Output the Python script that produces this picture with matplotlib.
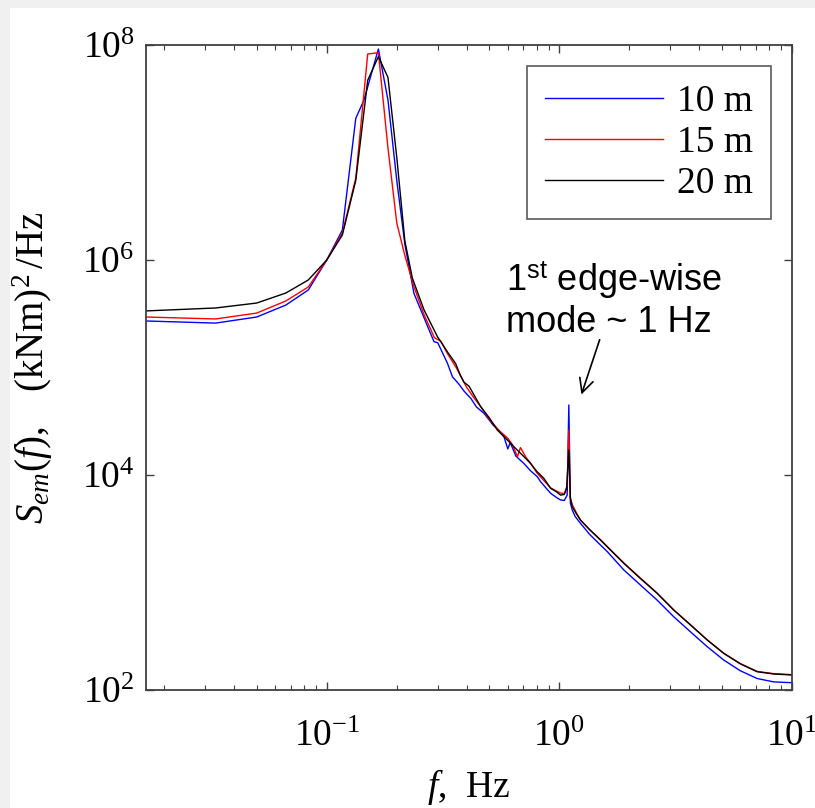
import numpy as np
import matplotlib.pyplot as plt
from matplotlib.patches import Rectangle
from matplotlib.ticker import NullLocator, LogLocator

plt.rcParams['font.family'] = 'Liberation Serif'
plt.rcParams['mathtext.fontset'] = 'custom'
plt.rcParams['mathtext.rm'] = 'Liberation Serif'
plt.rcParams['mathtext.it'] = 'Liberation Serif:italic'
plt.rcParams['mathtext.sf'] = 'Liberation Sans'

# spectra of edge-wise moment for three heights
f_10 = [0.0167, 0.0333, 0.05, 0.0667, 0.0833, 0.1, 0.1167, 0.1333, 0.1446, 0.1667,
        0.1833, 0.2, 0.2167, 0.237, 0.262, 0.289, 0.30, 0.33, 0.347, 0.37, 0.39,
        0.416, 0.44, 0.474, 0.52, 0.55, 0.578, 0.60, 0.615, 0.65, 0.704, 0.75,
        0.804, 0.83, 0.917, 0.97, 1.012, 1.05, 1.08, 1.098, 1.115, 1.136, 1.17,
        1.233, 1.35, 1.503, 1.606, 1.892, 2.23, 2.63, 3.10, 3.66, 4.32, 5.09, 6.0,
        7.08, 8.35, 10.0]
S_10 = [2.71e5, 2.59e5, 2.95e5, 3.81e5, 5.26e5, 1.0e6, 1.9e6, 2.08e7, 3.08e7, 9.18e7,
        3.08e7, 5.5e6, 1.4e6, 4.9e5, 2.9e5, 1.74e5, 1.7e5, 1.1e5, 8.2e4, 7.0e4, 6.0e4,
        5.17e4, 4.3e4, 3.75e4, 2.9e4, 2.6e4, 2.27e4, 1.75e4, 2.0e4, 1.5e4, 1.28e4, 1.1e4,
        9.64e3, 8.67e3, 6.76e3, 6.2e3, 5.86e3, 5.8e3, 6.5e3, 4.48e4, 5.5e3, 4.72e3, 4.1e3,
        3.55e3, 2.8e3, 2.23e3, 1.94e3, 1.31e3, 948, 687, 481, 348, 253, 190, 151,
        128, 119, 117]

f_15 = [0.0167, 0.0333, 0.05, 0.0667, 0.0833, 0.1, 0.1167, 0.1333, 0.15, 0.1667,
        0.1833, 0.2, 0.2167, 0.237, 0.262, 0.29, 0.31, 0.33, 0.36, 0.40, 0.43, 0.46,
        0.50, 0.55, 0.60, 0.63, 0.66, 0.68, 0.72, 0.75, 0.80, 0.83, 0.917, 0.97,
        1.012, 1.05, 1.08, 1.098, 1.115, 1.136, 1.2, 1.233, 1.35, 1.503, 1.606, 1.892,
        2.23, 2.63, 3.10, 3.66, 4.32, 5.09, 6.0, 7.08, 8.35, 10.0]
S_15 = [2.95e5, 2.83e5, 3.21e5, 4.16e5, 5.61e5, 1.0e6, 1.78e6, 5.79e6, 8.25e7, 8.48e7,
        1.1e7, 2.21e6, 1.1e6, 5.65e5, 3.1e5, 1.9e5, 1.75e5, 1.35e5, 1.0e5, 6.5e4, 5.2e4, 4.3e4,
        3.3e4, 2.6e4, 2.2e4, 1.9e4, 1.48e4, 1.8e4, 1.45e4, 1.3e4, 1.05e4, 9.6e3, 7.6e3, 7.1e3,
        6.8e3, 6.7e3, 8.0e3, 2.62e4, 6.2e3, 5.3e3, 4.2e3, 3.8e3, 3.1e3, 2.5e3, 2.16e3, 1.52e3,
        1.1e3, 798, 557, 405, 293, 220, 176, 149, 142, 139]

f_20 = [0.0167, 0.0333, 0.05, 0.0667, 0.0833, 0.1, 0.1167, 0.1333, 0.15, 0.1667,
        0.1833, 0.2, 0.2167, 0.2333, 0.262, 0.299, 0.33, 0.358, 0.375, 0.389, 0.409,
        0.459, 0.50, 0.541, 0.60, 0.638, 0.70, 0.752, 0.80, 0.858, 0.917, 0.97, 1.012,
        1.05, 1.075, 1.098, 1.115, 1.136, 1.18, 1.233, 1.35, 1.503, 1.606, 1.892, 2.23,
        2.63, 3.10, 3.66, 4.32, 5.09, 6.0, 7.08, 8.35, 10.0]
S_20 = [3.36e5, 3.58e5, 3.98e5, 4.93e5, 6.52e5, 1.0e6, 1.71e6, 5.5e6, 4.7e7, 7.8e7,
        5.0e7, 9.0e6, 1.5e6, 6.8e5, 3.43e5, 1.94e5, 1.40e5, 1.09e5, 8.5e4, 7.3e4, 6.7e4,
        4.32e4, 3.4e4, 2.62e4, 2.1e4, 1.83e4, 1.5e4, 1.28e4, 1.08e4, 9.3e3, 7.52e3, 7.0e3, 6.5e3,
        6.6e3, 7.5e3, 1.71e4, 6.0e3, 5.07e3, 4.4e3, 3.81e3, 3.1e3, 2.48e3, 2.15e3, 1.51e3, 1.09e3,
        795, 555, 403, 292, 219, 175, 148, 141, 138]

labels = ['10 m', '15 m', '20 m']

fig = plt.figure(figsize=(8.15, 8.08), dpi=100, facecolor='#f0f0f0')
# white sheet behind the axes, leaving a thin grey margin top and left
fig.patches.append(Rectangle((10 / 815, 0), 1, 1 - 8 / 808, transform=fig.transFigure,
                             facecolor='white', edgecolor='none', zorder=-10))

ax = fig.add_axes([0.1788, 0.146, 0.793, 0.7983])
ax.set_facecolor('none')
ax.plot(f_10, S_10, color='#0000ff', lw=1.0, label=labels[0])
ax.plot(f_15, S_15, color='#ff0000', lw=1.0, label=labels[1])
ax.plot(f_20, S_20, color='black', lw=1.0, label=labels[2])

ax.set_xscale('log')
ax.set_yscale('log')
ax.set_xlim(1 / 60, 10)
ax.set_ylim(1e2, 1e8)
ax.set_yticks([1e2, 1e4, 1e6, 1e8])
ax.yaxis.set_minor_locator(NullLocator())
ax.xaxis.set_minor_locator(LogLocator(subs=np.arange(2, 10)))

for s in ax.spines.values():
    s.set_color('#404040')
    s.set_linewidth(1.3)
ax.tick_params(which='both', direction='in', top=True, right=True, color='#404040')
ax.tick_params(which='major', length=6, width=1.0, labelsize=27)
ax.tick_params(which='minor', length=3.5, width=0.8)
ax.tick_params(axis='y', pad=8)
ax.tick_params(axis='x', pad=21)

ax.set_xlabel('$f$,  Hz', fontsize=27)
ax.xaxis.set_label_coords(0.5, -0.12)
ax.xaxis.label.set_va('top')
ax.set_ylabel(r'$S_{em}(f),\ \ \ (\mathrm{kNm})^{2}\,/\mathrm{Hz}$', fontsize=28)
ax.yaxis.set_label_coords(-0.14, 0.5)

leg = ax.legend(loc='upper right', fontsize=27, frameon=True, fancybox=False,
                handlelength=3.15, handletextpad=0.35, labelspacing=0.17,
                borderaxespad=0.55, borderpad=0.5)
leg.get_frame().set_edgecolor('#303030')
leg.get_frame().set_linewidth(1.2)

ax.text(0.587, 1.0e6, '1$^{\\mathsf{st}}$ edge-wise\nmode ~ 1 Hz', family='Liberation Sans',
        fontsize=26, ha='left', va='top', linespacing=1.15)
ax.annotate('', xy=(1.233, 5.3e4), xytext=(1.503, 1.92e5),
            arrowprops=dict(arrowstyle='->', color='black', lw=1.2, mutation_scale=25))

fig.savefig('out.png', dpi=100, facecolor=fig.get_facecolor())
